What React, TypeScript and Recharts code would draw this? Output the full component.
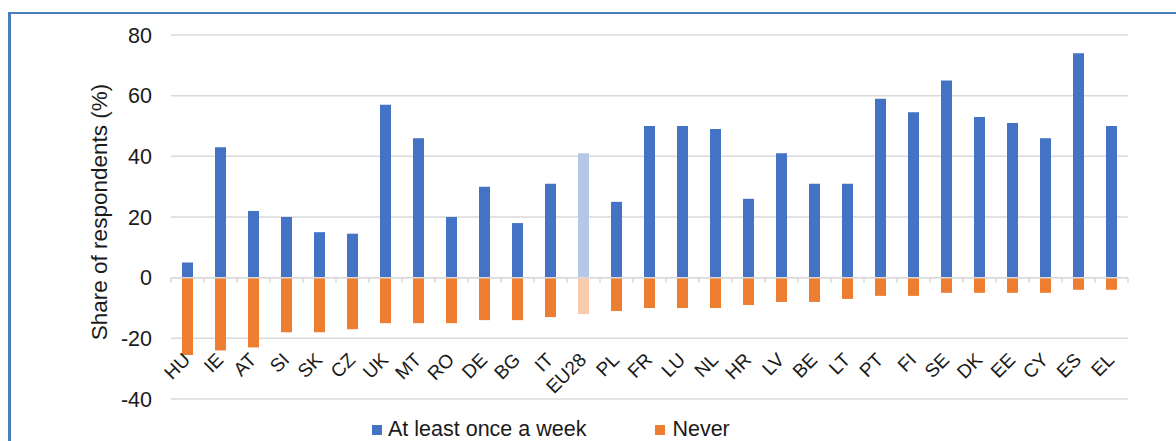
import React from "react"
import {
    BarChart,
    Bar,
    XAxis,
    YAxis,
    CartesianGrid,
    ReferenceLine,
    Cell
} from "recharts"

const categories = [
    "HU", "IE", "AT", "SI", "SK", "CZ", "UK", "MT", "RO", "DE", "BG", "IT", "EU28", "PL",
    "FR", "LU", "NL", "HR", "LV", "BE", "LT", "PT", "FI", "SE", "DK", "EE", "CY", "ES", "EL"
]
const weekly = [
    5, 43, 22, 20, 15, 14.5, 57, 46, 20, 30, 18, 31, 41, 25,
    50, 50, 49, 26, 41, 31, 31, 59, 54.5, 65, 53, 51, 46, 74, 50
]
const never = [
    -25.5, -24, -23, -18, -18, -17, -15, -15, -15, -14, -14, -13, -12, -11,
    -10, -10, -10, -9, -8, -8, -7, -6, -6, -5, -5, -5, -5, -4, -4
]
const yTicks = [-40, -20, 0, 20, 40, 60, 80]

const BLUE = "#4472C4"
const ORANGE = "#ED7D31"
const BLUE_EU = "#B4C7E7"
const ORANGE_EU = "#F8CBAD"
const GRID = "#d9d9d9"
const TEXT = "#1a1a1a"
const FONT = "'Liberation Sans', Arial, sans-serif"

const data = categories.map((c, i) => ({
    country: c,
    weekly: weekly[i],
    never: never[i]
}))

// rotated country codes, lifted up to sit just under the negative bars
const CountryTick = ({ x, y, payload }: any) => (
    <text
        x={x + 4}
        y={y - 38}
        transform={`rotate(-45 ${x + 4} ${y - 38})`}
        textAnchor="end"
        fontSize={19}
        fontFamily={FONT}
        fill={TEXT}
    >
        {payload.value}
    </text>
)

// zero line with small marks between categories
const ZeroAxis = (props: any) => {
    const { x1, x2, y1 } = props
    const n = categories.length
    const step = (x2 - x1) / n
    const marks = []
    for (let i = 0; i <= n; i++) {
        const mx = x1 + i * step
        marks.push(<line key={i} x1={mx} x2={mx} y1={y1} y2={y1 + 5} stroke={GRID} strokeWidth={1.5} />)
    }
    return (
        <g>
            <line x1={x1} x2={x2} y1={y1} y2={y1} stroke={GRID} strokeWidth={1.5} />
            {marks}
        </g>
    )
}

const YTitle = ({ viewBox }: any) => {
    const cy = viewBox.y + viewBox.height / 2 - 5
    return (
        <text
            x={107}
            y={cy}
            transform={`rotate(-90 107 ${cy})`}
            textAnchor="middle"
            fontSize={22.5}
            fontFamily={FONT}
            fill={TEXT}
        >
            Share of respondents (%)
        </text>
    )
}

const swatch = (color: string): React.CSSProperties => ({
    width: 10,
    height: 10,
    background: color,
    display: "inline-block"
})

export default function App() {
    return (
        <div style={{ position: "absolute", left: 0, top: 0, width: 1176, height: 441, background: "#fff", overflow: "hidden" }}>
            <div
                style={{
                    position: "absolute",
                    left: 8,
                    top: 12,
                    width: 1300,
                    height: 600,
                    borderTop: "2.5px solid #4A7EBB",
                    borderLeft: "3px solid #4A7EBB"
                }}
            />
            <div style={{ position: "absolute", left: 0, top: 0 }}>
                <BarChart
                    width={1176}
                    height={441}
                    data={data}
                    stackOffset="sign"
                    margin={{ top: 35, right: 48, bottom: 41, left: 0 }}
                    barSize={11}
                >
                    <CartesianGrid vertical={false} stroke={GRID} strokeWidth={1.5} />
                    <XAxis
                        dataKey="country"
                        height={1}
                        axisLine={false}
                        tickLine={false}
                        tickSize={0}
                        tickMargin={0}
                        interval={0}
                        tick={<CountryTick />}
                    />
                    <YAxis
                        width={171}
                        domain={[-40, 80]}
                        ticks={yTicks}
                        interval={0}
                        axisLine={false}
                        tickLine={false}
                        tickSize={8}
                        tickMargin={11}
                        tick={{ fontSize: 21.5, fontFamily: FONT, fill: TEXT }}
                        label={<YTitle />}
                    />
                    <ReferenceLine y={0} shape={<ZeroAxis />} />
                    <Bar dataKey="weekly" name="At least once a week" stackId="s" fill={BLUE} isAnimationActive={false}>
                        {data.map((d, i) => (
                            <Cell key={i} fill={d.country === "EU28" ? BLUE_EU : BLUE} />
                        ))}
                    </Bar>
                    <Bar dataKey="never" name="Never" stackId="s" fill={ORANGE} isAnimationActive={false}>
                        {data.map((d, i) => (
                            <Cell key={i} fill={d.country === "EU28" ? ORANGE_EU : ORANGE} />
                        ))}
                    </Bar>
                </BarChart>
            </div>
            <div
                style={{
                    position: "absolute",
                    left: 372,
                    top: 417,
                    display: "flex",
                    alignItems: "center",
                    fontFamily: FONT,
                    fontSize: 21.5,
                    color: TEXT,
                    whiteSpace: "nowrap"
                }}
            >
                <span style={{ ...swatch(BLUE), marginRight: 6 }} />
                <span>At least once a week</span>
                <span style={{ ...swatch(ORANGE), marginLeft: 69, marginRight: 7 }} />
                <span>Never</span>
            </div>
        </div>
    )
}
